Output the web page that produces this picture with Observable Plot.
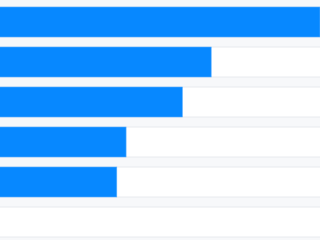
<!DOCTYPE html>
<html>
<head>
<meta charset="utf-8">
<script src="https://cdn.jsdelivr.net/npm/d3@7"></script>
<script src="https://cdn.jsdelivr.net/npm/@observablehq/plot@0.6"></script>
<style>
  html, body { margin: 0; padding: 0; background: #f7f8fa; overflow: hidden; }
  #chart svg { display: block; background: #f7f8fa; }
</style>
</head>
<body>
<div id="chart"></div>
<script>
const categories = ["A", "B", "C", "D", "E", "F"];
const values = [100, 66, 57, 39.4, 36.5, 0];
const xMax = 100;

const data = categories.map((c, i) => ({category: c, value: values[i], max: xMax}));

const chart = Plot.plot({
  width: 320,
  height: 243,
  marginTop: 1,
  marginBottom: 0,
  marginLeft: 0,
  marginRight: 0,
  x: {domain: [0, xMax], axis: null},
  y: {domain: categories, axis: null, paddingInner: 0.25, paddingOuter: 0.125},
  style: {background: "#f7f8fa"},
  marks: [
    Plot.barX(data, {x: "max", y: "category", fill: "white", stroke: "#e8eaee", strokeWidth: 1, insetLeft: -2, insetRight: -2}),
    Plot.barX(data, {filter: d => d.value > 0, x: "value", y: "category", fill: "#0788ff", stroke: "#5fb0ff", strokeWidth: 0.6, insetLeft: -2})
  ]
});
document.getElementById("chart").append(chart);
</script>
</body>
</html>
